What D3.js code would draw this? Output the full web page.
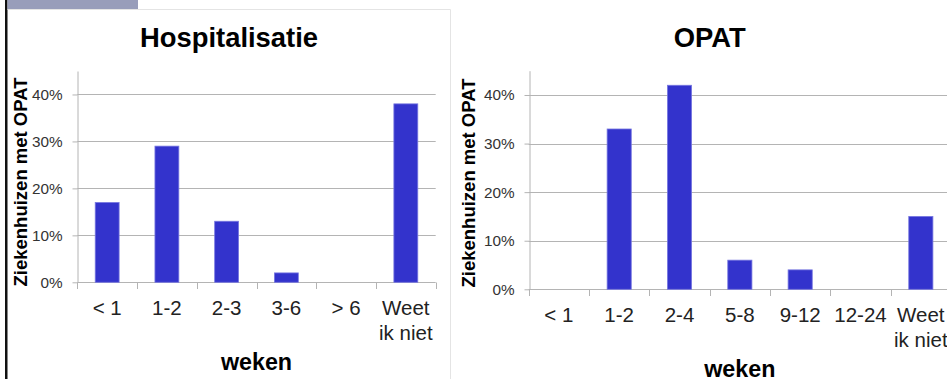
<!DOCTYPE html>
<html>
<head>
<meta charset="utf-8">
<script src="https://cdn.jsdelivr.net/npm/d3@7/dist/d3.min.js"></script>
<style>
  html, body { margin: 0; padding: 0; background: #fff; }
  svg { display: block; font-family: "Liberation Sans", Arial, sans-serif; }
</style>
</head>
<body>
<svg id="chart" width="947" height="379"></svg>
<script>
// Duur van de behandeling: hospitalisatie vs. OPAT (percentage ziekenhuizen)
const hospCategories = ["< 1", "1-2", "2-3", "3-6", "> 6", "Weet\nik niet"];
const hospValues = [17, 29, 13, 2, 0, 38];

const opatCategories = ["< 1", "1-2", "2-4", "5-8", "9-12", "12-24", "Weet\nik niet"];
const opatValues = [0, 33, 42, 6, 4, 0, 15];

const yTicks = [0, 10, 20, 30, 40];
const yMax = 45;

const titles = ["Hospitalisatie", "OPAT"];
const yAxisTitle = "Ziekenhuizen met OPAT";
const xAxisTitle = "weken";

const svg = d3.select("#chart");

// slide decoration: dark left rule, small header tab, light panel frame
svg.append("rect").attr("x", 5).attr("y", 0).attr("width", 2.5).attr("height", 379).attr("fill", "#111");
svg.append("rect").attr("x", 7.5).attr("y", 0).attr("width", 130.5).attr("height", 9.5).attr("fill", "#989dba");
svg.append("path")
  .attr("d", "M7.5,9.5H450.5V379")
  .attr("fill", "none").attr("stroke", "#e4e4e4").attr("stroke-width", 1);

function drawPanel(opts) {
  const g = svg.append("g");
  const x = d3.scaleBand()
    .domain(opts.categories)
    .range([opts.left, opts.right])
    .paddingInner(0.6)
    .paddingOuter(0.3);
  const y = d3.scaleLinear().domain([0, yMax]).range([opts.bottom, opts.top]);

  // title
  g.append("text")
    .attr("x", opts.titleX).attr("y", 47)
    .attr("text-anchor", "middle")
    .attr("font-size", 27.4).attr("font-weight", "bold").attr("fill", "#000")
    .text(opts.title);

  // horizontal gridlines
  g.append("g").selectAll("line")
    .data(yTicks.filter(d => d > 0))
    .join("line")
    .attr("x1", opts.left).attr("x2", opts.right)
    .attr("y1", d => Math.round(y(d)) + 0.5).attr("y2", d => Math.round(y(d)) + 0.5)
    .attr("stroke", "#b4b4b4").attr("stroke-width", 1);

  // y axis
  const yAxis = g.append("g")
    .attr("transform", `translate(${Math.round(opts.left) + 0.5},0)`)
    .call(d3.axisLeft(y).tickValues(yTicks).tickFormat(d => d + "%").tickSize(5).tickSizeOuter(0).tickPadding(10));
  yAxis.select(".domain").attr("stroke", "#b4b4b4");
  yAxis.selectAll(".tick line").attr("stroke", "#b4b4b4");
  yAxis.selectAll(".tick text")
    .attr("font-size", 15.3).attr("fill", "#333")
    .attr("font-family", "Liberation Sans, Arial, sans-serif");

  // x axis baseline and category boundary ticks
  const baseY = Math.round(y(0)) + 0.5;
  g.append("line")
    .attr("x1", opts.left).attr("x2", opts.right)
    .attr("y1", baseY).attr("y2", baseY)
    .attr("stroke", "#b4b4b4");
  const bounds = d3.range(opts.categories.length + 1).map(i => opts.left + i * x.step());
  g.append("g").selectAll("line")
    .data(bounds)
    .join("line")
    .attr("x1", d => Math.round(d) + 0.5).attr("x2", d => Math.round(d) + 0.5)
    .attr("y1", baseY).attr("y2", baseY + 6.5)
    .attr("stroke", "#b4b4b4");

  // category labels
  const labels = g.append("g").selectAll("text")
    .data(opts.categories)
    .join("text")
    .attr("x", d => x(d) + x.bandwidth() / 2)
    .attr("y", baseY + 32.5)
    .attr("text-anchor", "middle")
    .attr("font-size", 20.5).attr("fill", "#222");
  labels.each(function(d) {
    const lines = d.split("\n");
    d3.select(this).selectAll("tspan")
      .data(lines)
      .join("tspan")
      .attr("x", x(d) + x.bandwidth() / 2)
      .attr("dy", (l, i) => i === 0 ? 0 : 24.5)
      .text(l => l);
  });

  // bars
  g.append("g").selectAll("rect")
    .data(opts.values.map((v, i) => ({ c: opts.categories[i], v })))
    .join("rect")
    .attr("x", d => x(d.c))
    .attr("width", x.bandwidth())
    .attr("y", d => y(d.v))
    .attr("height", d => y(0) - y(d.v))
    .attr("fill", d => d.v > 0 ? "#3333cc" : "none")
    .attr("stroke", d => d.v > 0 ? "#7777e0" : "none")
    .attr("stroke-width", 0.8);

  // axis titles
  g.append("text")
    .attr("transform", `translate(${opts.yTitleX},${opts.yTitleY}) rotate(-90)`)
    .attr("text-anchor", "middle")
    .attr("font-size", 18.5).attr("font-weight", "bold").attr("fill", "#000")
    .text(yAxisTitle);
  g.append("text")
    .attr("x", (opts.left + opts.right) / 2)
    .attr("y", opts.xTitleY)
    .attr("text-anchor", "middle")
    .attr("font-size", 23.3).attr("font-weight", "bold").attr("fill", "#000")
    .text(xAxisTitle);
}

drawPanel({
  title: titles[0], titleX: 229,
  categories: hospCategories, values: hospValues,
  left: 77.3, right: 435.7, top: 71, bottom: 282.3,
  yTitleX: 26.5, yTitleY: 182, xTitleY: 370
});

drawPanel({
  title: titles[1], titleX: 709.7,
  categories: opatCategories, values: opatValues,
  left: 528.7, right: 951, top: 70.7, bottom: 289.3,
  yTitleX: 475, yTitleY: 183, xTitleY: 376.5
});
</script>
</body>
</html>
